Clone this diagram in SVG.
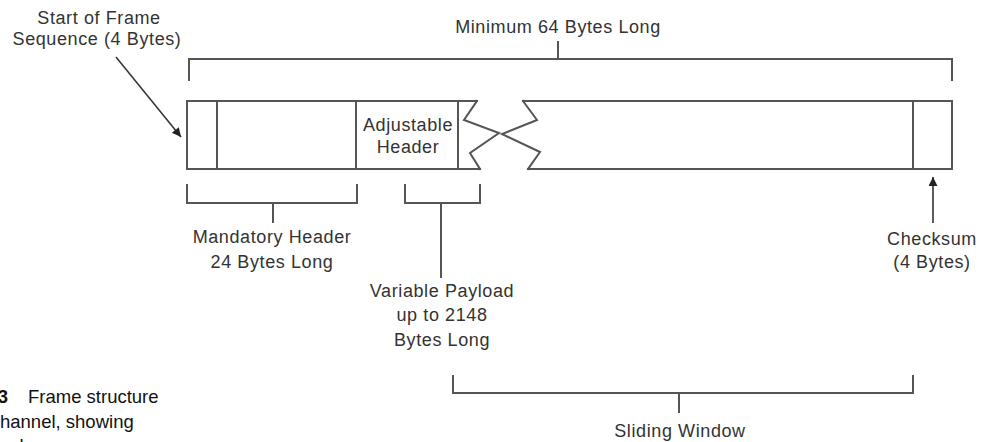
<svg xmlns="http://www.w3.org/2000/svg" width="987" height="442" viewBox="0 0 987 442">
<style>
.ln{fill:none;stroke:#555;stroke-width:2;stroke-linejoin:miter;stroke-linecap:square}
.t{font-family:"Liberation Sans",Arial,sans-serif;font-size:18px;fill:#333;text-anchor:middle;letter-spacing:0.6px}
.c{font-family:"Liberation Sans",Arial,sans-serif;font-size:18.5px;fill:#111}
</style>
<defs>
<marker id="ah" viewBox="0 0 10 10" refX="10" refY="5" markerWidth="5" markerHeight="5" orient="auto" markerUnits="userSpaceOnUse">
<path d="M0,0 L10,5 L0,10 z" fill="#222"/>
</marker>
<marker id="ah2" viewBox="0 0 10 10" refX="10" refY="5" markerWidth="13" markerHeight="9" orient="auto" markerUnits="userSpaceOnUse">
<path d="M0,0 L10,5 L0,10 z" fill="#222"/>
</marker>
</defs>
<rect width="987" height="442" fill="#fff"/>
<g id="frame">
<path class="ln" d="M477,101 L187,101 L187,169 L480,169"/>
<path class="ln" d="M477,101 L464,120 L499,133 L470,153 L480,169"/>
<path class="ln" d="M523,101 L952,101 L952,169 L528,169"/>
<path class="ln" d="M523,101 L537,120 L502,134 L540,152 L528,169"/>
<line class="ln" x1="217" y1="101" x2="217" y2="169"/>
<line class="ln" x1="356" y1="101" x2="356" y2="169"/>
<line class="ln" x1="458" y1="101" x2="458" y2="169"/>
<line class="ln" x1="913" y1="101" x2="913" y2="169"/>
<text class="t" x="408" y="131">Adjustable</text>
<text class="t" x="408" y="153">Header</text>
</g>
<g id="label-start">
<text class="t" x="99" y="24">Start of Frame</text>
<text class="t" x="97" y="45">Sequence (4 Bytes)</text>
</g>
<g id="label-min">
<text class="t" x="558" y="33">Minimum 64 Bytes Long</text>
</g>
<g id="label-mandatory">
<text class="t" x="272" y="243">Mandatory Header</text>
<text class="t" x="272" y="268">24 Bytes Long</text>
</g>
<g id="label-payload">
<text class="t" x="442" y="297">Variable Payload</text>
<text class="t" x="442" y="321">up to 2148</text>
<text class="t" x="442" y="346">Bytes Long</text>
</g>
<g id="label-checksum">
<text class="t" x="932" y="245">Checksum</text>
<text class="t" x="932" y="268">(4 Bytes)</text>
</g>
<g id="label-sliding">
<text class="t" x="680" y="437">Sliding Window</text>
</g>
<g id="connectors">
<path class="ln" d="M189,80 L189,59 L952,59 L952,80"/>
<line class="ln" x1="558" y1="42" x2="558" y2="59"/>
<path class="ln" d="M187,185 L187,203 L357,203 L357,185"/>
<line class="ln" x1="273" y1="203" x2="273" y2="222"/>
<path class="ln" d="M405,185 L405,203 L480,203 L480,185"/>
<line class="ln" x1="441" y1="203" x2="441" y2="277"/>
<path class="ln" d="M453,376 L453,393 L913,393 L913,376"/>
<line class="ln" x1="679" y1="393" x2="679" y2="412"/>
<line x1="116" y1="57" x2="181" y2="137" stroke="#333" stroke-width="1.6" marker-end="url(#ah2)"/>
<line x1="933" y1="223" x2="933" y2="177" stroke="#333" stroke-width="1.6" marker-end="url(#ah2)"/>
</g>
<g id="caption">
<text class="c" x="8" y="403" text-anchor="end" font-weight="bold">3</text>
<text class="c" x="28" y="403">Frame structure</text>
<text class="c" x="0" y="428">hannel, showing</text>
<text class="c" x="0" y="452">ecksum</text>
</g>
</svg>
